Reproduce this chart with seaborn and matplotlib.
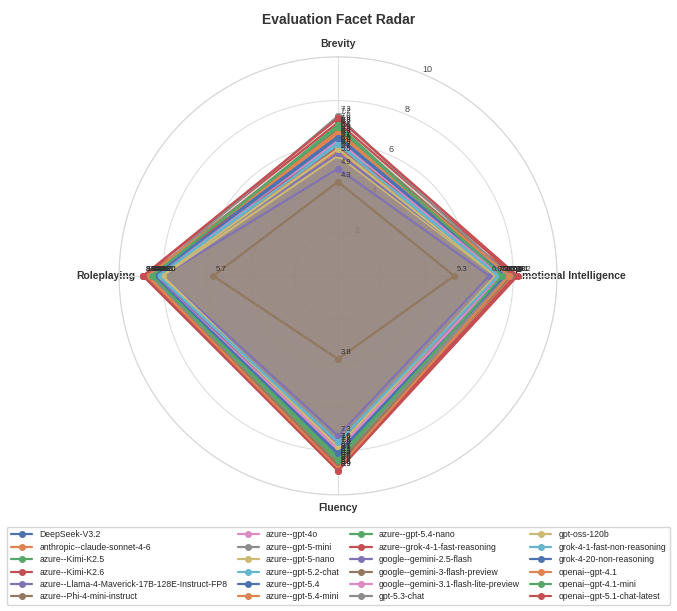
import numpy as np
import matplotlib
matplotlib.use("Agg")
import matplotlib.pyplot as plt
import seaborn as sns

# ============================================================
# Data
# ============================================================

facets = ["Brevity", "Emotional Intelligence", "Fluency", "Roleplaying"]

models = [
    "DeepSeek-V3.2",
    "anthropic--claude-sonnet-4-6",
    "azure--Kimi-K2.5",
    "azure--Kimi-K2.6",
    "azure--Llama-4-Maverick-17B-128E-Instruct-FP8",
    "azure--Phi-4-mini-instruct",
    "azure--gpt-4o",
    "azure--gpt-5-mini",
    "azure--gpt-5-nano",
    "azure--gpt-5.2-chat",
    "azure--gpt-5.4",
    "azure--gpt-5.4-mini",
    "azure--gpt-5.4-nano",
    "azure--grok-4-1-fast-reasoning",
    "google--gemini-2.5-flash",
    "google--gemini-3-flash-preview",
    "google--gemini-3.1-flash-lite-preview",
    "gpt-5.3-chat",
    "gpt-oss-120b",
    "grok-4-1-fast-non-reasoning",
    "grok-4-20-non-reasoning",
    "openai--gpt-4.1",
    "openai--gpt-4.1-mini",
    "openai--gpt-5.1-chat-latest",
]

brevity = [6.3, 5.7, 6.8, 7.0, 4.9, 4.3, 6.0, 6.6, 5.5, 6.1, 6.4, 6.5,
           6.9, 5.9, 5.6, 6.7, 6.2, 7.3, 5.8, 6.0, 6.3, 6.6, 6.8, 7.2]
emotional = [7.6, 8.0, 7.8, 8.1, 6.9, 5.3, 7.4, 7.7, 7.2, 7.3, 7.6, 7.9,
             7.5, 8.1, 7.3, 7.9, 7.5, 7.8, 7.2, 7.3, 7.6, 7.8, 7.5, 8.2]
fluency = [8.2, 8.9, 8.5, 8.7, 7.3, 3.8, 8.0, 8.3, 7.8, 7.6, 8.1, 8.6,
           8.3, 8.8, 7.7, 8.6, 7.9, 8.4, 7.8, 7.6, 8.1, 8.8, 8.4, 8.9]
roleplaying = [8.5, 8.8, 8.6, 8.9, 8.0, 5.7, 8.4, 8.5, 8.0, 8.2, 8.5, 8.7,
               8.4, 8.9, 8.3, 8.7, 8.4, 8.6, 8.1, 8.2, 8.4, 8.7, 8.5, 8.9]

radial_ticks = [2, 4, 6, 8, 10]

# ============================================================
# Style
# ============================================================

sns.set_theme(style="whitegrid")
plt.rcParams["font.family"] = ["Liberation Sans", "DejaVu Sans"]

palette = sns.color_palette("deep", 10)

angles = np.linspace(0, 2 * np.pi, len(facets), endpoint=False).tolist()
angles_closed = angles + angles[:1]

# ============================================================
# Radar Plot
# ============================================================

fig = plt.figure(figsize=(6.77, 6.11), dpi=100)
ax = fig.add_axes([0.1758, 0.190, 0.647, 0.717], projection="polar")

ax.set_theta_offset(np.pi / 2)
ax.set_theta_direction(-1)

for i, model in enumerate(models):
    values = [brevity[i], emotional[i], fluency[i], roleplaying[i]]
    values_closed = values + values[:1]
    color = palette[i % 10]

    ax.plot(
        angles_closed,
        values_closed,
        color=color,
        linewidth=1.6,
        marker="o",
        markersize=4,
        label=model
    )
    ax.fill(angles_closed, values_closed, color=color, alpha=0.1)

    for a, v in zip(angles, values):
        ax.annotate(
            f"{v:.1f}",
            xy=(a, v),
            xytext=(2, 2),
            textcoords="offset points",
            fontsize=5.5,
            color="#333333",
            ha="left",
            va="bottom"
        )

ax.set_ylim(0, 10)
ax.set_yticks(radial_ticks)
ax.set_yticklabels([str(t) for t in radial_ticks], fontsize=6.5, color="#444444")

# facet names centred just outside the outer ring, under the data
ax.set_xticks(angles)
ax.set_xticklabels([])
for a, name in zip(angles, facets):
    ax.text(
        a, 10.6, name,
        fontsize=7.5,
        fontweight="bold",
        color="#333333",
        ha="center",
        va="center",
        zorder=0.5
    )

ax.grid(color="#dedede", linewidth=0.8)
ax.spines["polar"].set_color("#d6d6d6")
ax.spines["polar"].set_linewidth(0.8)

fig.suptitle("Evaluation Facet Radar", fontsize=10, fontweight="bold",
             color="#333333", y=0.978)

fig.legend(
    loc="lower center",
    bbox_to_anchor=(0.5, 0.003),
    ncol=4,
    fontsize=6.2,
    frameon=True,
    labelspacing=0.4,
    handlelength=2.5,
    columnspacing=1.2
)

plt.savefig("out.png", dpi=100)
plt.close()
